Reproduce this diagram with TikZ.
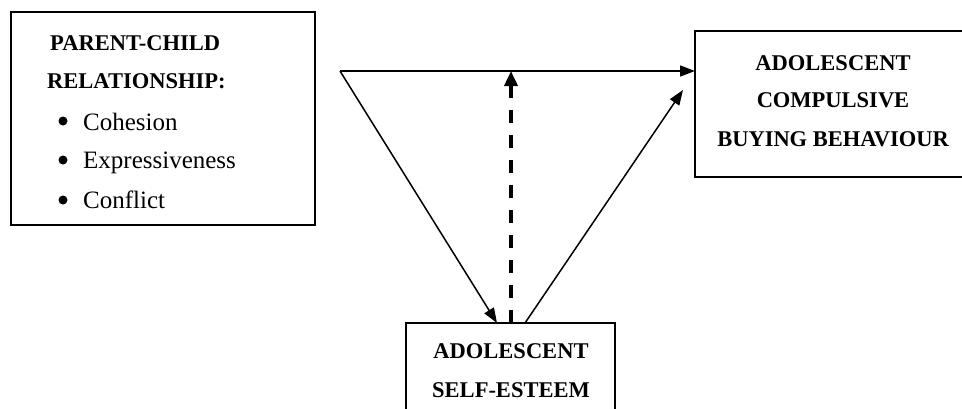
\documentclass[tikz,border=0pt]{standalone}
\usepackage{fontspec}
\setmainfont{Liberation Serif}
\usetikzlibrary{arrows.meta}
\begin{document}
\begin{tikzpicture}[x=1pt,y=-1pt,
  boxline/.style={draw=black,line width=1.8pt},
  hdr/.style={font=\fontsize{22.5}{22.5}\selectfont\bfseries,inner sep=0pt,anchor=base},
  itm/.style={font=\fontsize{25}{25}\selectfont,inner sep=0pt,anchor=base west},
  bul/.style={circle,fill=black,inner sep=0pt,minimum size=9pt},
  conn/.style={line width=1.5pt,-{Triangle[length=15pt,width=11pt]}},
  dconn/.style={line width=3.6pt,dash pattern=on 13pt off 12pt,-{Triangle[length=15pt,width=13pt]}}]
\useasboundingbox (0,0) rectangle (962,408);
% boxes
\draw[boxline] (11,12) rectangle (315,225);
\draw[boxline] (695,31) rectangle (985,177);
\draw[boxline] (406,323) rectangle (615,420);
\coordinate (rbw) at (695,71);
\coordinate (rbin) at (683,90);
% left box text
\node[hdr,anchor=base west] (p1) at (50,50) {PARENT-CHILD};
\node[hdr,anchor=base west] (p2) at (47,88) {RELATIONSHIP:};
\node[bul] (b1) at (63,121) {};
\node[itm] (i1) at (83,130) {Cohesion};
\node[bul] (b2) at (63,160) {};
\node[itm] (i2) at (83,168) {Expressiveness};
\node[bul] (b3) at (63,200) {};
\node[itm] (i3) at (83,208) {Conflict};
% right box text
\node[hdr] (r1) at (833,70) {ADOLESCENT};
\node[hdr] (r2) at (833,107) {COMPULSIVE};
\node[hdr] (r3) at (833,146) {BUYING BEHAVIOUR};
% bottom box text
\node[hdr] (s1) at (511,358) {ADOLESCENT};
\node[hdr] (s2) at (511,397) {SELF-ESTEEM};
% connectors
\coordinate (start) at (340,71);
\coordinate (btin) at (497,323);
\coordinate (btmid) at (511,323);
\coordinate (btout) at (525,323);
\coordinate (dtop) at (511,71);
\draw[conn] (start) -- (rbw);
\draw[conn] (start) -- (btin);
\draw[conn] (btout) -- (rbin);
\draw[dconn] (btmid) -- (dtop);
\end{tikzpicture}
\end{document}
